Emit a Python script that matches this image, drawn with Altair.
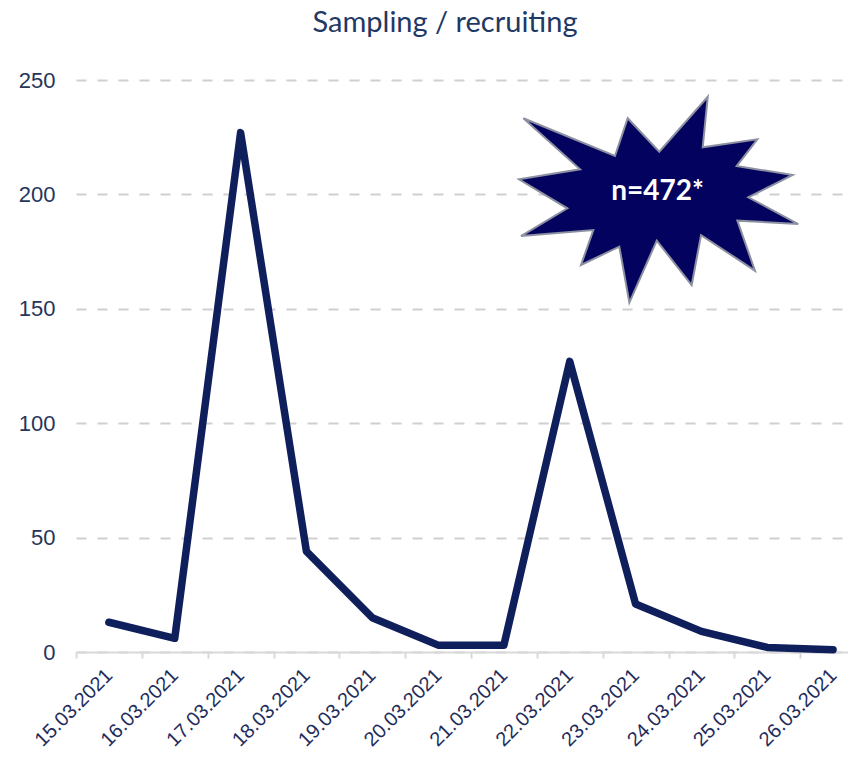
import altair as alt
import pandas as pd

# ---- data ----
dates = ["15.03.2021", "16.03.2021", "17.03.2021", "18.03.2021", "19.03.2021", "20.03.2021",
         "21.03.2021", "22.03.2021", "23.03.2021", "24.03.2021", "25.03.2021", "26.03.2021"]
values = [13, 6, 227, 44, 15, 3, 3, 127, 21, 9, 2, 1]
y_ticks = [0, 50, 100, 150, 200, 250]
title_text = "Sampling / recruiting"
badge_text = ["n=472*"]

df = pd.DataFrame({"date": dates, "value": values})
badge = pd.DataFrame({"label": badge_text})

NAVY = "#0f1f5b"
LABEL = "#1f2d5c"

# irregular "explosion" outline in unit coordinates
STAR_PATH = (
    "M-0.969,-0.583 L-0.313,-0.313 L-0.222,-0.583 L0.004,-0.344 L0.351,-0.737 "
    "L0.315,-0.375 L0.706,-0.432 L0.558,-0.241 L0.959,-0.177 L0.641,-0.017 "
    "L0.999,0.174 L0.563,0.150 L0.689,0.508 L0.303,0.253 L0.236,0.611 "
    "L-0.014,0.293 L-0.210,0.737 L-0.282,0.336 L-0.556,0.467 L-0.468,0.217 "
    "L-0.986,0.260 L-0.654,0.062 L-1.0,-0.146 L-0.563,-0.218 Z"
)

x = alt.X(
    "date:N", sort=dates,
    scale=alt.Scale(type="band", paddingInner=0, paddingOuter=0, range=[0, 790]),
    axis=alt.Axis(
        title=None, labelAngle=-45, labelAlign="right", labelBaseline="middle",
        labelFontSize=20, labelFont="Liberation Sans", labelColor=LABEL, labelPadding=14,
        tickBand="extent", tickSize=6, tickColor="#d9d9d9", tickWidth=2,
        domainColor="#d9d9d9", domainWidth=2, grid=False,
    ),
)
y = alt.Y(
    "value:Q",
    scale=alt.Scale(domain=[0, 250], nice=False),
    axis=alt.Axis(
        title=None, values=y_ticks, labelFontSize=22, labelFont="Liberation Sans",
        labelColor="#26355a", labelPadding=21, ticks=False, domain=False,
        grid=True, gridColor="#d0d0d0", gridDash=[10, 11], gridWidth=2,
    ),
)

line = alt.Chart(df).mark_line(
    color=NAVY, strokeWidth=7.5, strokeJoin="round", strokeCap="round"
).encode(x=x, y=y)

star = alt.Chart(badge).mark_point(
    shape=STAR_PATH, size=78064, filled=True, fill="#03035f", fillOpacity=1,
    stroke="#8c90a0", strokeWidth=2, opacity=1, clip=True,
).encode(x=alt.value(582.7), y=alt.value(119.7))

star_text = alt.Chart(badge).mark_text(
    font="Lato", fontWeight="bold", fontSize=28, color="white", baseline="middle"
).encode(x=alt.value(581.5), y=alt.value(112), text="label:N")

chart = alt.layer(line, star, star_text).properties(
    width=772, height=572,
    title=alt.TitleParams(
        title_text, font="Lato", fontSize=29, fontWeight="normal", color="#1f3864",
        anchor="middle", dx=-17, offset=8, baseline="alphabetic",
    ),
    autosize=alt.AutoSizeParams(type="none"),
    padding={"left": 68, "top": 72, "right": 0, "bottom": 98},
).configure_view(stroke=None)

chart.save("out.html", embed_options={"renderer": "svg", "actions": False})
